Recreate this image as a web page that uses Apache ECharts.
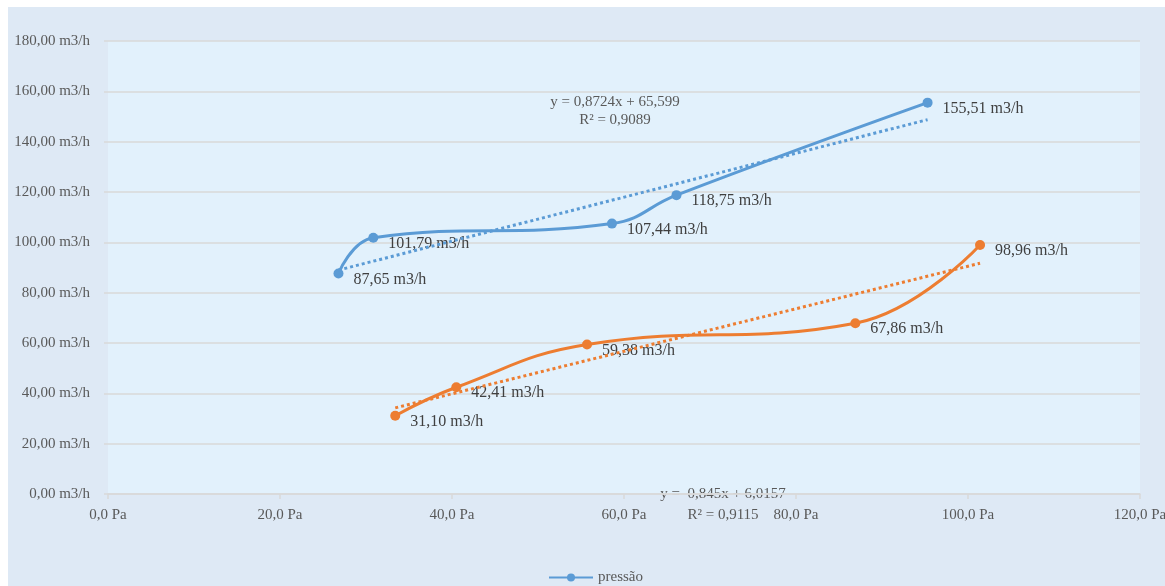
<!DOCTYPE html>
<html>
<head>
<meta charset="utf-8">
<script src="https://cdn.jsdelivr.net/npm/echarts@6/dist/echarts.min.js"></script>
<style>
  html, body { margin: 0; padding: 0; background: #ffffff; overflow: hidden; width: 100%; height: 100%; }
  #frame { position: absolute; left: 8px; top: 7px; right: 0; bottom: 0; background: #dee9f5; }
  #chart { position: absolute; left: 0; top: 0; width: 1165px; height: 586px; }
</style>
</head>
<body>
<div id="frame"></div>
<div id="chart"></div>
<script>
// Pressure (Pa) vs. flow (m3/h), two measurement runs
const seriesName = 'pressão';
const blueX = [26.8, 30.85, 58.6, 66.1, 95.3];
const blueY = [87.65, 101.79, 107.44, 118.75, 155.51];
const orangeX = [33.4, 40.5, 55.7, 86.9, 101.4];
const orangeY = [31.10, 42.41, 59.38, 67.86, 98.96];

// Linear trendlines as stated by their equations
const blueTrend = { slope: 0.8724, intercept: 65.599 };
const orangeTrend = { slope: 0.845, intercept: 6.0157 };
const blueEquation = ['y = 0,8724x + 65,599', 'R² = 0,9089'];
const orangeEquation = ['y =  0,845x + 6,0157', 'R² = 0,9115'];

const BLUE = '#5b9bd5';
const ORANGE = '#ed7d31';
const FONT = '"Liberation Serif", "DejaVu Serif", serif';

function pairs(xs, ys) { return xs.map((x, i) => [x, ys[i]]); }
function trendPoints(xs, t) {
  const x0 = xs[0], x1 = xs[xs.length - 1];
  return [[x0, t.slope * x0 + t.intercept], [x1, t.slope * x1 + t.intercept]];
}
const fmtFlow = v => v.toFixed(2).replace('.', ',') + ' m3/h';

function dataSeries(name, xs, ys, color) {
  return {
    name: name,
    type: 'line',
    smooth: 0.45,
    data: pairs(xs, ys),
    symbol: 'circle',
    symbolSize: 10,
    itemStyle: { color: color },
    lineStyle: { color: color, width: 3 },
    label: {
      show: true,
      position: 'right',
      offset: [5, 6],
      fontFamily: FONT,
      fontSize: 16,
      color: '#404040',
      formatter: p => fmtFlow(p.value[1])
    },
    z: 3
  };
}
function trendSeries(xs, t, color) {
  return {
    type: 'line',
    data: trendPoints(xs, t),
    symbol: 'none',
    silent: true,
    lineStyle: { color: color, width: 3, type: [3, 3], cap: 'butt' },
    z: 4
  };
}

const chart = echarts.init(document.getElementById('chart'), null, { width: 1165, height: 586 });
chart.setOption({
  backgroundColor: 'transparent',
  animation: false,
  grid: {
    left: 108, right: 25, top: 41, bottom: 92,
    outerBoundsMode: 'none',
    containLabel: false,
    show: true, backgroundColor: '#e2f1fc', borderWidth: 0
  },
  legend: {
    data: [seriesName],
    top: 565,
    left: 543,
    itemWidth: 44,
    itemHeight: 10,
    itemGap: 6,
    textStyle: { fontFamily: FONT, fontSize: 15, color: '#595959' }
  },
  xAxis: {
    type: 'value',
    min: 0, max: 120, interval: 20,
    axisLine: { show: true, lineStyle: { color: '#d9d9d9', width: 1.5 } },
    axisTick: { show: true, length: 5, lineStyle: { color: '#d9d9d9', width: 1.5 } },
    splitLine: { show: false },
    axisLabel: {
      fontFamily: FONT, fontSize: 15, color: '#595959', margin: 14,
      formatter: v => v.toFixed(1).replace('.', ',') + ' Pa'
    }
  },
  yAxis: {
    type: 'value',
    min: 0, max: 180, interval: 20,
    axisLine: { show: false },
    axisTick: { show: true, length: 4, lineStyle: { color: '#d9d9d9', width: 1.5 } },
    splitLine: { show: true, lineStyle: { color: '#d9d9d9', width: 1.5 } },
    axisLabel: {
      fontFamily: FONT, fontSize: 15, color: '#595959', margin: 18,
      formatter: v => v.toFixed(2).replace('.', ',') + ' m3/h'
    }
  },
  graphic: [
    {
      type: 'text', x: 615, y: 93,
      style: {
        text: blueEquation.join('\n'), textAlign: 'center', align: 'center',
        font: '15px ' + FONT, fill: '#595959', lineHeight: 18
      }
    },
    {
      type: 'text', x: 723, y: 484,
      style: {
        text: orangeEquation.join('\n'), textAlign: 'center', align: 'center',
        font: '15px ' + FONT, fill: '#595959', lineHeight: 21
      }
    }
  ],
  series: [
    dataSeries(seriesName, blueX, blueY, BLUE),
    dataSeries('vazão', orangeX, orangeY, ORANGE),
    trendSeries(blueX, blueTrend, BLUE),
    trendSeries(orangeX, orangeTrend, ORANGE)
  ]
});
</script>
</body>
</html>
